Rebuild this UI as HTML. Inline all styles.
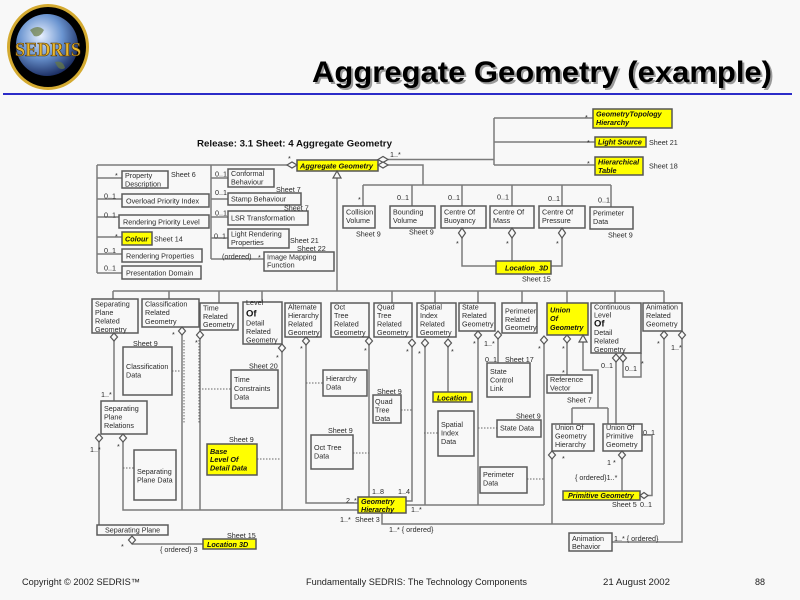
<!DOCTYPE html>
<html><head><meta charset="utf-8"><style>
html,body{margin:0;padding:0;background:#f8f8f8;}
svg{display:block}
.t{font-family:"Liberation Sans",Arial,sans-serif;font-size:7.2px;fill:#2a2a2a}
.yt{font-family:"Liberation Sans",Arial,sans-serif;font-size:7.2px;font-weight:bold;font-style:italic;fill:#111}
.of{font-family:"Liberation Sans",Arial,sans-serif;font-size:9.5px;font-weight:bold;fill:#111}
.b{fill:#f8f8f8;stroke:#5a5a5a;stroke-width:1.5}
.y{fill:#ffff00;stroke:#555;stroke-width:1.5}
.l{fill:none;stroke:#7a7a7a;stroke-width:1.5}
.d{fill:none;stroke:#666;stroke-width:1;stroke-dasharray:1.5 1.5}
.dm{fill:#f8f8f8;stroke:#555;stroke-width:1.2}
.ft{font-family:"Liberation Sans",Arial,sans-serif;font-size:9px;fill:#222}
</style></head><body>
<svg width="800" height="600" viewBox="0 0 800 600">
<defs>
<radialGradient id="g" cx="40%" cy="35%" r="70%"><stop offset="0" stop-color="#e8f0ff"/><stop offset="0.5" stop-color="#6a94d0"/><stop offset="1" stop-color="#142458"/></radialGradient>
</defs>
<rect width="800" height="600" fill="#f8f8f8"/>
<!-- logo -->
<ellipse cx="48" cy="47" rx="41" ry="43" fill="#d4aa30"/>
<ellipse cx="48" cy="47" rx="38" ry="40" fill="#000"/>
<circle cx="47" cy="45" r="31" fill="url(#g)"/>
<path d="M30 30 q8 -6 14 0 q-4 8 -10 6z M55 62 q8 -2 10 6 q-6 4 -10 -6z" fill="#6a7a40" opacity="0.7"/>
<text x="48" y="56" text-anchor="middle" font-family="Liberation Serif,serif" font-weight="bold" font-size="20" fill="#e8b830" stroke="#503000" stroke-width="0.6" textLength="66" lengthAdjust="spacingAndGlyphs">SEDRIS</text>
<!-- title -->
<text x="314" y="84" font-family="Liberation Sans,Arial,sans-serif" font-weight="bold" font-size="30" fill="#9a9a9a" textLength="460" lengthAdjust="spacingAndGlyphs">Aggregate Geometry (example)</text>
<text x="312" y="82" font-family="Liberation Sans,Arial,sans-serif" font-weight="bold" font-size="30" fill="#000" textLength="460" lengthAdjust="spacingAndGlyphs">Aggregate Geometry (example)</text>
<rect x="3" y="93" width="789" height="2" fill="#2c2cc8"/>

<text x="197" y="146.5" font-family="Liberation Sans,Arial,sans-serif" font-weight="bold" font-size="9.4" fill="#111" textLength="195" lengthAdjust="spacingAndGlyphs">Release: 3.1  Sheet: 4  Aggregate Geometry</text>

<!-- connectors -->
<path class="l" d="M97 165 H287 M97 165 V273 M97 178 H122 M97 199 H122 M97 217 H119 M97 237 H122 M97 254 H122 M97 273 H122
M211 165 V259 M211 178 H228 M211 199 H228 M211 217 H228 M211 238 H228 M211 259 H264
M337 178 V291
M388 159.5 H494 M494 118 V165 M494 118 H593 M494 142 H595 M494 165 H595
M388 165 H423 V185 M363 185 H611
M363 185 V206 M412 185 V206 M462 185 V206 M512 185 V206 M562 185 V206 M611 185 V207
M462 238 V266 H496 M512 238 V261 M562 238 V266 H551
M113 291 H664
M113 291 V299 M169 291 V299 M219 291 V303 M262 291 V302 M392 291 V303 M435 291 V303 M478 291 V303 M522 291 V303 M567 291 V303 M615 291 V303 M664 291 V303
M114 341 V401
M182 335 V510
M200 339 V510
M282 352 V510
M306 345 V503 H358
M369 345 V497
M412 347 V501 H406
M425 347 V505
M448 347 V392
M478 339 V505
M498 339 V363
M544 344 V505
M406 505 H544
M567 343 V375
M583 342 V370 H598 V408
M572 408 H608 M572 408 V424 M608 408 V424
M616 362 V424
M623 362 V377 H641 V353
M664 339 V524
M682 339 V542 H612
M123 442 V510 H358
M99 442 V525
M552 459 V524
M382 513 V524 H664
M622 459 V491
M642 435 H652 V495.5 H648
M132 544 H203"/>
<path class="d" d="M172 371 H181 M199 389 H231 M123 468 H134 M257 459 H281 M306 383 H323 M353 453 H369 M401 410 H412 M424 433 H438 M478 428 H497 M527 479 H544 M184 340 V423 M199 340 V423"/>

<!-- boxes -->
<rect class="b" x="122" y="171" width="46" height="17"/>
<rect class="b" x="122" y="194" width="87" height="13"/>
<rect class="b" x="119" y="215" width="90" height="13"/>
<rect class="y" x="122" y="232" width="30" height="13"/>
<rect class="b" x="122" y="249" width="80" height="13"/>
<rect class="b" x="122" y="266" width="79" height="13"/>
<rect class="b" x="228" y="169" width="46" height="18"/>
<rect class="b" x="228" y="193" width="73" height="12"/>
<rect class="b" x="228" y="211" width="80" height="14"/>
<rect class="b" x="228" y="229" width="61" height="19"/>
<rect class="b" x="264" y="252" width="70" height="19"/>
<rect class="y" x="297" y="160" width="81" height="11"/>
<rect class="y" x="593" y="109" width="79" height="19"/>
<rect class="y" x="595" y="137" width="51" height="10"/>
<rect class="y" x="595" y="157" width="48" height="18"/>
<rect class="b" x="343" y="206" width="32" height="22"/>
<rect class="b" x="390" y="206" width="45" height="22"/>
<rect class="b" x="441" y="206" width="45" height="22"/>
<rect class="b" x="490" y="206" width="44" height="22"/>
<rect class="b" x="539" y="206" width="46" height="22"/>
<rect class="b" x="590" y="207" width="43" height="22"/>
<rect class="y" x="496" y="261" width="55" height="13"/>

<rect class="b" x="92" y="299" width="46" height="34"/>
<rect class="b" x="142" y="299" width="57" height="28"/>
<rect class="b" x="200" y="303" width="38" height="27"/>
<rect class="b" x="243" y="302" width="39" height="42"/>
<rect class="b" x="285" y="303" width="36" height="34"/>
<rect class="b" x="331" y="303" width="38" height="34"/>
<rect class="b" x="374" y="303" width="38" height="34"/>
<rect class="b" x="417" y="303" width="39" height="34"/>
<rect class="b" x="459" y="303" width="36" height="28"/>
<rect class="b" x="502" y="303" width="35" height="30"/>
<rect class="y" x="547" y="303" width="41" height="32"/>
<rect class="b" x="591" y="303" width="50" height="50"/>
<rect class="b" x="643" y="303" width="39" height="28"/>

<rect class="b" x="123" y="347" width="49" height="48"/>
<rect class="b" x="101" y="401" width="46" height="33"/>
<rect class="b" x="134" y="450" width="42" height="50"/>
<rect class="b" x="231" y="370" width="47" height="38"/>
<rect class="y" x="207" y="444" width="50" height="31"/>
<rect class="b" x="323" y="370" width="44" height="26"/>
<rect class="b" x="311" y="435" width="42" height="34"/>
<rect class="b" x="373" y="395" width="28" height="28"/>
<rect class="y" x="433" y="392" width="39" height="10"/>
<rect class="b" x="438" y="411" width="36" height="45"/>
<rect class="b" x="487" y="363" width="43" height="34"/>
<rect class="b" x="497" y="420" width="44" height="17"/>
<rect class="b" x="480" y="467" width="47" height="26"/>
<rect class="b" x="547" y="375" width="45" height="18"/>
<rect class="b" x="552" y="424" width="42" height="27"/>
<rect class="b" x="603" y="424" width="39" height="27"/>
<rect class="y" x="563" y="491" width="77" height="9"/>
<rect class="y" x="358" y="497" width="48" height="16"/>
<rect class="b" x="97" y="525" width="71" height="10"/>
<rect class="y" x="203" y="539" width="53" height="10"/>
<rect class="b" x="569" y="533" width="43" height="18"/>

<!-- diamonds and triangles -->
<g class="dm">
<polygon points="287,165 292,162 297,165 292,168"/>
<polygon points="378,159.5 383,156.5 388,159.5 383,162.5"/>
<polygon points="378,165 383,162 388,165 383,168"/>
<polygon points="640,495.5 644,492.5 648,495.5 644,498.5"/>
<polygon points="462,228 465.5,233 462,238 458.5,233"/>
<polygon points="512,228 515.5,233 512,238 508.5,233"/>
<polygon points="562,228 565.5,233 562,238 558.5,233"/>
<polygon points="114,333 117.5,337 114,341 110.5,337"/>
<polygon points="182,327 185.5,331 182,335 178.5,331"/>
<polygon points="200,331 203.5,335 200,339 196.5,335"/>
<polygon points="282,344 285.5,348 282,352 278.5,348"/>
<polygon points="306,337 309.5,341 306,345 302.5,341"/>
<polygon points="369,337 372.5,341 369,345 365.5,341"/>
<polygon points="412,339 415.5,343 412,347 408.5,343"/>
<polygon points="425,339 428.5,343 425,347 421.5,343"/>
<polygon points="448,339 451.5,343 448,347 444.5,343"/>
<polygon points="478,331 481.5,335 478,339 474.5,335"/>
<polygon points="498,331 501.5,335 498,339 494.5,335"/>
<polygon points="544,336 547.5,340 544,344 540.5,340"/>
<polygon points="567,335 570.5,339 567,343 563.5,339"/>
<polygon points="616,354 619.5,358 616,362 612.5,358"/>
<polygon points="623,354 626.5,358 623,362 619.5,358"/>
<polygon points="664,331 667.5,335 664,339 660.5,335"/>
<polygon points="682,331 685.5,335 682,339 678.5,335"/>
<polygon points="99,434 102.5,438 99,442 95.5,438"/>
<polygon points="123,434 126.5,438 123,442 119.5,438"/>
<polygon points="552,451 555.5,455 552,459 548.5,455"/>
<polygon points="622,451 625.5,455 622,459 618.5,455"/>
<polygon points="132,536 135.5,540 132,544 128.5,540"/>
<polygon points="337,171 333,178 341,178"/>
<polygon points="583,335 579,342 587,342"/>
</g>

<!-- texts top-left -->
<text class="t" x="125" y="178">Property<tspan x="125" dy="8.5">Description</tspan></text>
<text class="t" x="115" y="178">*</text>
<text class="t" x="171" y="177">Sheet 6</text>
<text class="t" x="126" y="203.5">Overload Priority Index</text>
<text class="t" x="104" y="198.5">0..1</text>
<text class="t" x="123" y="224.5">Rendering Priority Level</text>
<text class="t" x="104" y="217.5">0..1</text>
<text class="yt" x="125" y="241.5">Colour</text>
<text class="t" x="115" y="239">*</text>
<text class="t" x="154" y="241.5">Sheet 14</text>
<text class="t" x="126" y="258.5">Rendering Properties</text>
<text class="t" x="104" y="253">0..1</text>
<text class="t" x="126" y="275.5">Presentation Domain</text>
<text class="t" x="104" y="270.5">0..1</text>

<text class="t" x="231" y="176">Conformal<tspan x="231" dy="8.5">Behaviour</tspan></text>
<text class="t" x="215" y="176.5">0..1</text>
<text class="t" x="231" y="201.5">Stamp Behaviour</text>
<text class="t" x="215" y="195">0..1</text>
<text class="t" x="276" y="192">Sheet 7</text>
<text class="t" x="231" y="220.5">LSR Transformation</text>
<text class="t" x="215" y="215.5">0..1</text>
<text class="t" x="284" y="210.5">Sheet 7</text>
<text class="t" x="231" y="236.5">Light Rendering<tspan x="231" dy="8.5">Properties</tspan></text>
<text class="t" x="214" y="238.5">0..1</text>
<text class="t" x="290" y="243">Sheet 21</text>
<text class="t" x="267" y="259.5">Image Mapping<tspan x="267" dy="8">Function</tspan></text>
<text class="t" x="222" y="259">(ordered)</text>
<text class="t" x="258" y="260">*</text>
<text class="t" x="297" y="251">Sheet 22</text>

<text class="yt" x="300" y="168.3" textLength="73" lengthAdjust="spacingAndGlyphs">Aggregate Geometry</text>
<text class="t" x="288" y="161">*</text>
<text class="t" x="390" y="157">1..*</text>

<text class="yt" x="596" y="116.5">GeometryTopology<tspan x="596" dy="8.5">Hierarchy</tspan></text>
<text class="t" x="585" y="120">*</text>
<text class="yt" x="598" y="144.5">Light Source</text>
<text class="t" x="587" y="145">*</text>
<text class="t" x="649" y="145">Sheet 21</text>
<text class="yt" x="598" y="164.5">Hierarchical<tspan x="598" dy="8.5">Table</tspan></text>
<text class="t" x="587" y="166">*</text>
<text class="t" x="649" y="168.5">Sheet 18</text>

<text class="t" x="358" y="202">*</text>
<text class="t" x="397" y="200">0..1</text>
<text class="t" x="448" y="200">0..1</text>
<text class="t" x="497" y="199.5">0..1</text>
<text class="t" x="548" y="201">0..1</text>
<text class="t" x="598" y="202.5">0..1</text>
<text class="t" x="346" y="214.5">Collision<tspan x="346" dy="8.5">Volume</tspan></text>
<text class="t" x="393" y="214.5">Bounding<tspan x="393" dy="8.5">Volume</tspan></text>
<text class="t" x="444" y="214.5">Centre Of<tspan x="444" dy="8.5">Buoyancy</tspan></text>
<text class="t" x="493" y="214.5">Centre Of<tspan x="493" dy="8.5">Mass</tspan></text>
<text class="t" x="542" y="214.5">Centre Of<tspan x="542" dy="8.5">Pressure</tspan></text>
<text class="t" x="593" y="215.5">Perimeter<tspan x="593" dy="8.5">Data</tspan></text>
<text class="t" x="356" y="236.5">Sheet 9</text>
<text class="t" x="409" y="234.5">Sheet 9</text>
<text class="t" x="608" y="237.5">Sheet 9</text>
<text class="t" x="456" y="246">*</text>
<text class="t" x="506" y="246">*</text>
<text class="t" x="556" y="246">*</text>
<text class="yt" x="505" y="270.5">Location_3D</text>
<text class="t" x="522" y="281.5">Sheet 15</text>

<!-- lower row -->
<text class="t" x="95" y="306.5">Separating<tspan x="95" dy="8.5">Plane</tspan><tspan x="95" dy="8.5">Related</tspan><tspan x="95" dy="8.5">Geometry</tspan></text>
<text class="t" x="145" y="306.5">Classification<tspan x="145" dy="8.7">Related</tspan><tspan x="145" dy="8.7">Geometry</tspan></text>
<text class="t" x="203" y="310.5">Time<tspan x="203" dy="8.3">Related</tspan><tspan x="203" dy="8.3">Geometry</tspan></text>
<text class="t" x="246" y="305">Level</text>
<text class="of" x="246" y="316.5">Of</text>
<text class="t" x="246" y="325.5">Detail<tspan x="246" dy="8.5">Related</tspan><tspan x="246" dy="8.5">Geometry</tspan></text>
<text class="t" x="288" y="309.5">Alternate<tspan x="288" dy="8.5">Hierarchy</tspan><tspan x="288" dy="8.5">Related</tspan><tspan x="288" dy="8.5">Geometry</tspan></text>
<text class="t" x="334" y="309.5">Oct<tspan x="334" dy="8.5">Tree</tspan><tspan x="334" dy="8.5">Related</tspan><tspan x="334" dy="8.5">Geometry</tspan></text>
<text class="t" x="377" y="309.5">Quad<tspan x="377" dy="8.5">Tree</tspan><tspan x="377" dy="8.5">Related</tspan><tspan x="377" dy="8.5">Geometry</tspan></text>
<text class="t" x="420" y="309.5">Spatial<tspan x="420" dy="8.5">Index</tspan><tspan x="420" dy="8.5">Related</tspan><tspan x="420" dy="8.5">Geometry</tspan></text>
<text class="t" x="462" y="309.5">State<tspan x="462" dy="8.5">Related</tspan><tspan x="462" dy="8.5">Geometry</tspan></text>
<text class="t" x="505" y="313.5">Perimeter<tspan x="505" dy="8.3">Related</tspan><tspan x="505" dy="8.3">Geometry</tspan></text>
<text class="yt" x="550" y="312.5">Union<tspan x="550" dy="8.7">Of</tspan><tspan x="550" dy="8.7">Geometry</tspan></text>
<text class="t" x="594" y="309.5">Continuous<tspan x="594" dy="8">Level</tspan></text>
<text class="of" x="594" y="326.5">Of</text>
<text class="t" x="594" y="335">Detail<tspan x="594" dy="8.5">Related</tspan><tspan x="594" dy="8.5">Geometry</tspan></text>
<text class="t" x="646" y="309.5">Animation<tspan x="646" dy="8.5">Related</tspan><tspan x="646" dy="8.5">Geometry</tspan></text>

<text class="t" x="172" y="337">*</text>
<text class="t" x="195" y="345">*</text>
<text class="t" x="276" y="360">*</text>
<text class="t" x="300" y="351">*</text>
<text class="t" x="364" y="353">*</text>
<text class="t" x="406" y="354">*</text>
<text class="t" x="418" y="356">*</text>
<text class="t" x="451" y="354">*</text>
<text class="t" x="473" y="346">*</text>
<text class="t" x="484" y="346">1..*</text>
<text class="t" x="538" y="351">*</text>
<text class="t" x="562" y="351">*</text>
<text class="t" x="562" y="375">*</text>
<text class="t" x="641" y="366">*</text>
<text class="t" x="601" y="368">0..1</text>
<text class="t" x="625" y="371">0..1</text>
<text class="t" x="657" y="346">*</text>
<text class="t" x="671" y="350">1..*</text>

<!-- lower boxes text -->
<text class="t" x="126" y="369">Classification<tspan x="126" dy="8.5">Data</tspan></text>
<text class="t" x="133" y="346">Sheet 9</text>
<text class="t" x="104" y="411">Separating<tspan x="104" dy="8.5">Plane</tspan><tspan x="104" dy="8.5">Relations</tspan></text>
<text class="t" x="101" y="397">1..*</text>
<text class="t" x="137" y="474">Separating<tspan x="137" dy="8.5">Plane Data</tspan></text>
<text class="t" x="90" y="452">1..*</text>
<text class="t" x="117" y="449">*</text>
<text class="t" x="234" y="382">Time<tspan x="234" dy="8.8">Constraints</tspan><tspan x="234" dy="8.8">Data</tspan></text>
<text class="t" x="249" y="368.5">Sheet 20</text>
<text class="yt" x="210" y="454">Base<tspan x="210" dy="8.2">Level Of</tspan><tspan x="210" dy="8.2">Detail Data</tspan></text>
<text class="t" x="229" y="442">Sheet 9</text>
<text class="t" x="326" y="381">Hierarchy<tspan x="326" dy="8.7">Data</tspan></text>
<text class="t" x="314" y="450">Oct Tree<tspan x="314" dy="8.3">Data</tspan></text>
<text class="t" x="328" y="433">Sheet 9</text>
<text class="t" x="375" y="404">Quad<tspan x="375" dy="8.5">Tree</tspan><tspan x="375" dy="8.5">Data</tspan></text>
<text class="t" x="377" y="394">Sheet 9</text>
<text class="yt" x="437" y="400.5">Location</text>
<text class="t" x="441" y="427">Spatial<tspan x="441" dy="8.5">Index</tspan><tspan x="441" dy="8.5">Data</tspan></text>
<text class="t" x="490" y="374">State<tspan x="490" dy="8.5">Control</tspan><tspan x="490" dy="8.5">Link</tspan></text>
<text class="t" x="485" y="362">0..1</text>
<text class="t" x="505" y="362">Sheet 17</text>
<text class="t" x="500" y="430.5">State Data</text>
<text class="t" x="516" y="418.5">Sheet 9</text>
<text class="t" x="483" y="477">Perimeter<tspan x="483" dy="8.7">Data</tspan></text>
<text class="t" x="550" y="382">Reference<tspan x="550" dy="8.5">Vector</tspan></text>
<text class="t" x="567" y="402.5">Sheet 7</text>
<text class="t" x="555" y="430">Union Of<tspan x="555" dy="8.5">Geometry</tspan><tspan x="555" dy="8.5">Hierarchy</tspan></text>
<text class="t" x="606" y="430">Union Of<tspan x="606" dy="8.5">Primitive</tspan><tspan x="606" dy="8.5">Geometry</tspan></text>
<text class="t" x="562" y="461">*</text>
<text class="t" x="607" y="465">1 *</text>
<text class="t" x="575" y="480">{ ordered}1..*</text>
<text class="t" x="643" y="435">0..1</text>
<text class="t" x="640" y="507">0..1</text>
<text class="t" x="612" y="507">Sheet 5</text>
<text class="yt" x="568" y="498">Primitive Geometry</text>
<text class="yt" x="361" y="504">Geometry<tspan x="361" dy="8">Hierarchy</tspan></text>
<text class="t" x="372" y="494">1..8</text>
<text class="t" x="398" y="494">1..4</text>
<text class="t" x="346" y="503">2..*</text>
<text class="t" x="411" y="512">1..*</text>
<text class="t" x="340" y="522">1..*</text>
<text class="t" x="355" y="522">Sheet 3</text>
<text class="t" x="389" y="532">1..* { ordered}</text>
<text class="t" x="105" y="532.5">Separating Plane</text>
<text class="t" x="121" y="549">*</text>
<text class="t" x="160" y="552">{ ordered} 3</text>
<text class="yt" x="207" y="547">Location 3D</text>
<text class="t" x="227" y="538">Sheet 15</text>
<text class="t" x="572" y="541">Animation<tspan x="572" dy="8">Behavior</tspan></text>
<text class="t" x="614" y="541">1..* { ordered}</text>

<!-- footer -->
<text class="ft" x="22" y="585" textLength="118" lengthAdjust="spacingAndGlyphs">Copyright © 2002 SEDRIS™</text>
<text class="ft" x="306" y="585" textLength="221" lengthAdjust="spacingAndGlyphs">Fundamentally SEDRIS: The Technology Components</text>
<text class="ft" x="603" y="585" textLength="67" lengthAdjust="spacingAndGlyphs">21 August 2002</text>
<text class="ft" x="755" y="585">88</text>
</svg>
</body></html>
